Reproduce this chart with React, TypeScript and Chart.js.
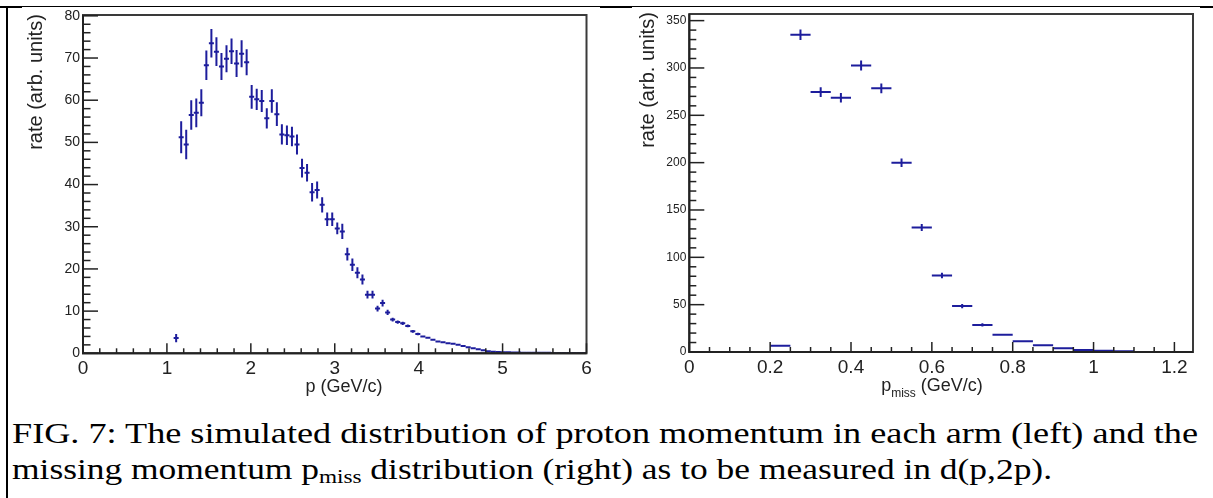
import React, { useEffect, useRef } from "react";
import { Chart, registerables } from "chart.js";

Chart.register(...registerables);

// ---------- Left panel: proton momentum p (GeV/c), bin width 0.06 ----------
const leftP = [
  1.11, 1.17, 1.23, 1.29, 1.35, 1.41, 1.47, 1.53, 1.59, 1.65, 1.71, 1.77, 1.83, 1.89, 1.95,
  2.01, 2.07, 2.13, 2.19, 2.25, 2.31, 2.37, 2.43, 2.49, 2.55, 2.61, 2.67, 2.73, 2.79,
  2.85, 2.91, 2.97, 3.03, 3.09, 3.15, 3.21, 3.27, 3.33, 3.39, 3.45, 3.51, 3.57, 3.63,
  3.69, 3.75, 3.81, 3.87, 3.93, 3.99, 4.05, 4.11, 4.17, 4.23, 4.29, 4.35, 4.41, 4.47,
  4.53, 4.59, 4.65, 4.71, 4.77, 4.83, 4.89, 4.95, 5.01, 5.07, 5.13, 5.19, 5.25, 5.31,
  5.37, 5.43, 5.49, 5.55, 5.61, 5.67, 5.73, 5.79, 5.85, 5.91, 5.97,
];
const leftRate = [
  3.6, 51.2, 49.5, 56.5, 57.0, 59.4, 68.3, 73.5, 71.5, 68.0, 69.8, 71.6, 68.7, 71.0, 69.0,
  60.8, 60.2, 59.8, 55.7, 59.8, 56.7, 51.9, 51.7, 51.4, 49.5, 43.9, 42.8, 38.2, 38.7,
  35.2, 31.8, 31.8, 29.6, 28.9, 23.5, 21.0, 19.1, 17.5, 13.9, 13.9, 10.6, 11.9, 9.7,
  8.0, 7.4, 7.1, 6.5, 5.2, 4.6, 4.0, 3.7, 3.2, 2.8, 2.6, 2.4, 2.25, 2.0,
  1.75, 1.45, 1.2, 0.95, 0.7, 0.5, 0.38, 0.3, 0.25, 0.22, 0.2, 0.18, 0.16, 0.15,
  0.14, 0.13, 0.12, 0.11, 0.1, 0.1, 0.09, 0.08, 0.07, 0.06, 0.05,
];
const leftErr = [
  1.0, 3.8, 3.5, 3.5, 3.4, 3.2, 3.5, 3.4, 3.4, 3.2, 3.2, 3.0, 3.2, 3.2, 3.1,
  2.8, 2.5, 2.6, 2.4, 2.8, 2.8, 2.4, 2.3, 2.3, 2.4, 2.2, 2.1, 2.2, 2.0,
  1.8, 1.6, 1.6, 1.4, 1.8, 1.5, 1.5, 1.3, 1.2, 0.9, 0.9, 0.7, 0.8, 0.6,
  0.45, 0.4, 0.4, 0.35, 0.3, 0.3, 0.25, 0.25, 0.2, 0.2, 0.2, 0.15, 0.15, 0.15,
  0.1, 0.1, 0.1, 0.1, 0.08, 0.08, 0.06, 0.06, 0.05, 0.05, 0.05, 0.04, 0.04, 0.04,
  0.03, 0.03, 0.03, 0.03, 0.02, 0.02, 0.02, 0.02, 0.02, 0.02, 0.02,
];
const leftBinWidth = 0.06;

// ---------- Right panel: missing momentum p_miss (GeV/c), bin width 0.05 ----------
const rightP = [
  0.225, 0.275, 0.325, 0.375, 0.425, 0.475, 0.525, 0.575, 0.625,
  0.675, 0.725, 0.775, 0.825, 0.875, 0.925, 0.975, 1.025, 1.075,
];
const rightRate = [
  6.7, 335, 274.5, 268.5, 302.7, 278.5, 200, 131.5, 80.8,
  48.5, 28.6, 18.2, 11.3, 7.0, 3.9, 2.2, 1.4, 0.7,
];
const rightErr = [
  0.8, 5.5, 5.2, 5.0, 5.3, 5.2, 4.5, 3.8, 2.9,
  2.2, 1.7, 1.3, 0.9, 0.7, 0.5, 0.3, 0.2, 0.15,
];
const rightBinWidth = 0.05;

// ---------- Text ----------
const yTitle = "rate (arb. units)";
const leftXTitle = "p (GeV/c)";
const rightXTitleMain = "p";
const rightXTitleSub = "miss";
const rightXTitleRest = " (GeV/c)";
const captionLine1 =
  "FIG. 7: The simulated distribution of proton momentum in each arm (left) and the";
const captionLine2a = "missing momentum p";
const captionLine2sub = "miss";
const captionLine2b = " distribution (right) as to be measured in d(p,2p).";

const BLUE = "#1d1d9c";
const AXIS = "#222222";
const SANS = '"Liberation Sans", Arial, Helvetica, sans-serif';
const SERIF = '"Liberation Serif", "DejaVu Serif", serif';

const histErrPlugin = {
  id: "histErr",
  afterDatasetsDraw(chart: any, _args: any, opts: any) {
    const { ctx, chartArea: a } = chart;
    const xs = chart.scales.x;
    const ys = chart.scales.y;
    const bw = opts.binWidth;
    ctx.save();
    ctx.beginPath();
    ctx.rect(a.left, a.top, a.right - a.left, a.bottom - a.top);
    ctx.clip();
    ctx.strokeStyle = BLUE;
    ctx.lineWidth = opts.lineWidth || 2;
    chart.data.datasets.forEach((ds: any) => {
      ds.data.forEach((pt: any) => {
        const x0 = xs.getPixelForValue(pt.x - bw / 2);
        const x1 = xs.getPixelForValue(pt.x + bw / 2);
        const xc = xs.getPixelForValue(pt.x);
        const yc = ys.getPixelForValue(pt.y);
        ctx.beginPath();
        ctx.moveTo(x0, yc);
        ctx.lineTo(x1, yc);
        ctx.stroke();
        if (pt.e > 0) {
          const yTop = ys.getPixelForValue(pt.y + pt.e);
          const yBot = ys.getPixelForValue(pt.y - pt.e);
          if (yBot - yTop > 2.5) {
            ctx.beginPath();
            ctx.moveTo(xc, yTop);
            ctx.lineTo(xc, yBot);
            ctx.stroke();
          }
        }
      });
    });
    ctx.restore();
  },
};

const rootFramePlugin = {
  id: "rootFrame",
  afterDraw(chart: any, _args: any, opts: any) {
    const { ctx, chartArea: a } = chart;
    const xs = chart.scales.x;
    const ys = chart.scales.y;
    ctx.save();
    ctx.strokeStyle = "#3a3a3a";
    ctx.lineWidth = 2;
    ctx.strokeRect(a.left, a.top, a.right - a.left, a.bottom - a.top);
    ctx.strokeStyle = AXIS;
    ctx.lineWidth = 2;
    ctx.beginPath();
    ctx.moveTo(a.left, a.top);
    ctx.lineTo(a.left, a.bottom);
    ctx.lineTo(a.right, a.bottom);
    ctx.stroke();
    ctx.lineWidth = 1.5;
    const nx = Math.round((xs.max - xs.min) / opts.xMinor + 1e-6);
    for (let i = 0; i <= nx; i++) {
      const v = xs.min + i * opts.xMinor;
      const r = v / opts.xMajor;
      const major = Math.abs(r - Math.round(r)) < 1e-6;
      const len = major ? opts.xMajorLen : opts.xMinorLen;
      const px = xs.getPixelForValue(v);
      if (px > a.right + 0.5) continue;
      ctx.beginPath();
      ctx.moveTo(px, a.bottom);
      ctx.lineTo(px, a.bottom - len);
      ctx.stroke();
    }
    const ny = Math.round((ys.max - ys.min) / opts.yMinor + 1e-6);
    for (let i = 0; i <= ny; i++) {
      const v = ys.min + i * opts.yMinor;
      const r = v / opts.yMajor;
      const major = Math.abs(r - Math.round(r)) < 1e-6;
      const len = major ? opts.yMajorLen : opts.yMinorLen;
      const py = ys.getPixelForValue(v);
      if (py < a.top - 0.5) continue;
      ctx.beginPath();
      ctx.moveTo(a.left, py);
      ctx.lineTo(a.left + len, py);
      ctx.stroke();
    }
    ctx.restore();
  },
};

function fmt(v: number) {
  return String(Math.round(v * 10) / 10);
}

function makeConfig(p: any) {
  const points = p.xs.map((x: number, i: number) => ({ x, y: p.ys[i], e: p.es[i] }));
  return {
    type: "scatter",
    data: {
      datasets: [
        {
          data: points,
          pointRadius: 0,
          pointHoverRadius: 0,
          showLine: false,
          borderColor: BLUE,
          backgroundColor: BLUE,
        },
      ],
    },
    plugins: [histErrPlugin, rootFramePlugin],
    options: {
      animation: false,
      responsive: false,
      devicePixelRatio: 1,
      events: [],
      layout: { padding: { left: 0, top: p.padTop, right: p.padRight, bottom: 0 } },
      plugins: {
        legend: { display: false },
        tooltip: { enabled: false },
        histErr: { binWidth: p.binWidth, lineWidth: 2 },
        rootFrame: p.frame,
      },
      scales: {
        x: {
          type: "linear",
          min: p.xMin,
          max: p.xMax,
          grid: { display: false, drawTicks: false },
          border: { display: false },
          ticks: {
            stepSize: p.xStep,
            includeBounds: false,
            autoSkip: false,
            maxRotation: 0,
            padding: p.xLabelPad,
            color: AXIS,
            font: { family: SANS, size: p.xFont },
            callback: (v: number) => fmt(v),
          },
          afterFit: (s: any) => {
            s.height = p.xAxisHeight;
          },
        },
        y: {
          type: "linear",
          min: 0,
          max: p.yMax,
          grid: { display: false, drawTicks: false },
          border: { display: false },
          ticks: {
            stepSize: p.yStep,
            includeBounds: false,
            autoSkip: false,
            padding: 3,
            color: AXIS,
            font: { family: SANS, size: p.yFont },
            callback: (v: number) => fmt(v),
          },
          afterFit: (s: any) => {
            s.width = p.yAxisWidth;
          },
        },
      },
    },
  };
}

function HistCanvas(props: any) {
  const ref = useRef<HTMLCanvasElement | null>(null);
  useEffect(() => {
    if (!ref.current) return;
    const chart = new Chart(ref.current, makeConfig(props.cfg) as any);
    return () => chart.destroy();
  }, []);
  return (
    <canvas
      ref={ref}
      width={props.width}
      height={props.height}
      style={{
        position: "absolute",
        left: props.left,
        top: props.top,
        width: props.width,
        height: props.height,
      }}
    />
  );
}

const leftCfg = {
  xs: leftP,
  ys: leftRate,
  es: leftErr,
  binWidth: leftBinWidth,
  xMin: 0,
  xMax: 6,
  xStep: 1,
  yMax: 80.2,
  yStep: 10,
  padTop: 15,
  padRight: 13.5,
  xAxisHeight: 400 - 353.3,
  yAxisWidth: 83,
  xFont: 19,
  yFont: 14,
  xLabelPad: 4,
  frame: {
    xMinor: 0.2,
    xMajor: 1,
    xMajorLen: 10,
    xMinorLen: 5,
    yMinor: 2,
    yMajor: 10,
    yMajorLen: 15,
    yMinorLen: 7.5,
  },
};

const rightCfg = {
  xs: rightP,
  ys: rightRate,
  es: rightErr,
  binWidth: rightBinWidth,
  xMin: 0,
  xMax: 1.246,
  xStep: 0.2,
  yMax: 357,
  yStep: 50,
  padTop: 14,
  padRight: 20,
  xAxisHeight: 400 - 352,
  yAxisWidth: 89.3,
  xFont: 19,
  yFont: 12,
  xLabelPad: 4,
  frame: {
    xMinor: 0.05,
    xMajor: 0.2,
    xMajorLen: 10,
    xMinorLen: 5,
    yMinor: 10,
    yMajor: 50,
    yMajorLen: 15,
    yMinorLen: 7,
  },
};

const yTitleStyle = (cx: number, cy: number): React.CSSProperties => ({
  position: "absolute",
  left: cx - 80,
  top: cy - 12,
  width: 160,
  height: 24,
  lineHeight: "24px",
  fontSize: 20,
  textAlign: "center",
  whiteSpace: "nowrap",
  transform: "rotate(-90deg)",
});

export default function App() {
  const black = "#000";
  return (
    <div
      style={{
        position: "absolute",
        left: 0,
        top: 0,
        width: 1213,
        height: 498,
        background: "#fff",
        overflow: "hidden",
        fontFamily: SANS,
        color: AXIS,
      }}
    >
      {/* document table borders */}
      <div style={{ position: "absolute", left: 7, top: 6, width: 1193, height: 1, background: black }} />
      <div style={{ position: "absolute", left: 0, top: 6, width: 22, height: 2, background: black }} />
      <div style={{ position: "absolute", left: 600, top: 6, width: 32, height: 2, background: black }} />
      <div style={{ position: "absolute", left: 1200, top: 6, width: 13, height: 2, background: black }} />
      <div style={{ position: "absolute", left: 6, top: 6, width: 2, height: 492, background: black }} />

      <HistCanvas cfg={leftCfg} left={0} top={0} width={600} height={400} />
      <HistCanvas cfg={rightCfg} left={600} top={0} width={613} height={400} />

      {/* y-axis titles */}
      <div style={yTitleStyle(34.5, 81.5)}>{yTitle}</div>
      <div style={yTitleStyle(646.5, 80)}>{yTitle}</div>

      {/* x-axis titles */}
      <div
        style={{
          position: "absolute",
          left: 344 - 80,
          top: 374,
          width: 160,
          height: 24,
          lineHeight: "24px",
          fontSize: 18,
          textAlign: "center",
          whiteSpace: "nowrap",
        }}
      >
        {leftXTitle}
      </div>
      <div
        style={{
          position: "absolute",
          left: 932 - 90,
          top: 373,
          width: 180,
          height: 24,
          lineHeight: "24px",
          fontSize: 18,
          textAlign: "center",
          whiteSpace: "nowrap",
        }}
      >
        {rightXTitleMain}
        <sub style={{ fontSize: 12, verticalAlign: "-6px" }}>{rightXTitleSub}</sub>
        {rightXTitleRest}
      </div>

      {/* caption */}
      <svg width={1213} height={98} style={{ position: "absolute", left: 0, top: 400 }}>
        <text
          x={12}
          y={43}
          fontFamily={SERIF}
          fontSize={29}
          fill="#000"
          textLength={1186}
          lengthAdjust="spacingAndGlyphs"
        >
          {captionLine1}
        </text>
        <text
          x={12}
          y={79}
          fontFamily={SERIF}
          fontSize={29}
          fill="#000"
          textLength={1040}
          lengthAdjust="spacingAndGlyphs"
        >
          {captionLine2a}
          <tspan fontSize={19} dy={4}>
            {captionLine2sub}
          </tspan>
          <tspan dy={-4}>{captionLine2b}</tspan>
        </text>
      </svg>
    </div>
  );
}
